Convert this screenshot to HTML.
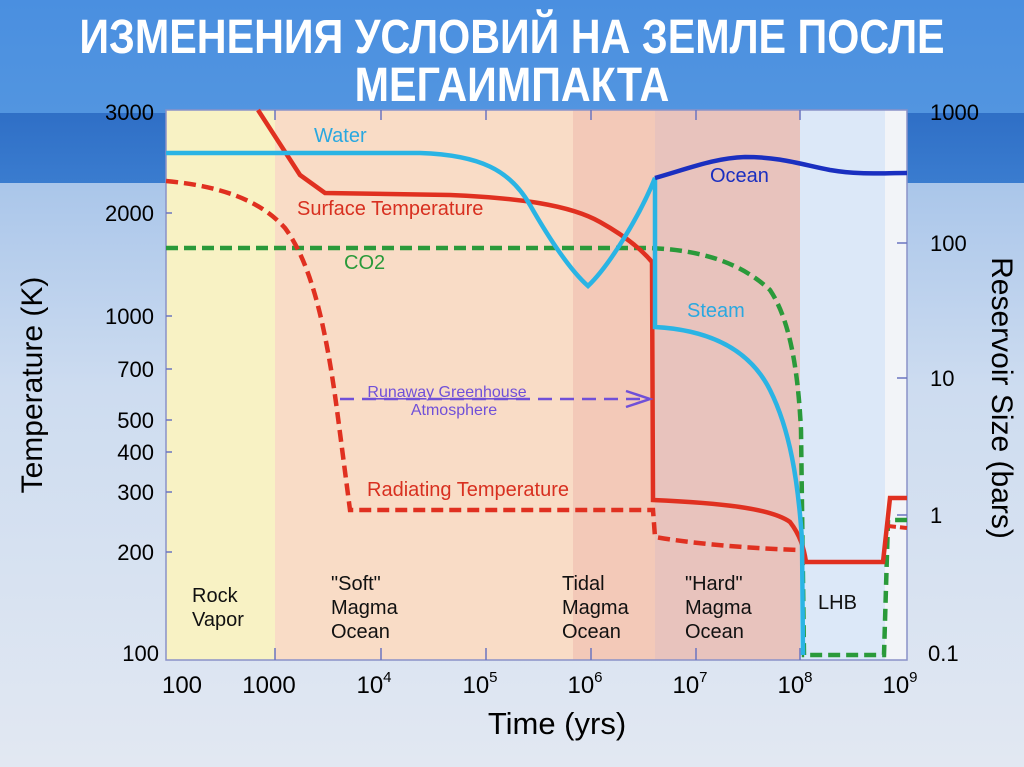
<!DOCTYPE html>
<html><head><meta charset="utf-8"><style>
html,body{margin:0;padding:0;width:1024px;height:767px;overflow:hidden}
svg{display:block}
text{font-family:"Liberation Sans",Arial,sans-serif}
</style></head><body>
<svg width="1024" height="767" viewBox="0 0 1024 767" xmlns="http://www.w3.org/2000/svg">
<defs>
<linearGradient id="top" x1="0" y1="0" x2="0" y2="1"><stop offset="0" stop-color="#4a8fe0"/><stop offset="1" stop-color="#5295e0"/></linearGradient>
<linearGradient id="band" x1="0" y1="0" x2="0" y2="1"><stop offset="0" stop-color="#2f6fc6"/><stop offset="1" stop-color="#3a7ccf"/></linearGradient>
<linearGradient id="low" x1="0" y1="0" x2="0" y2="1"><stop offset="0" stop-color="#aac6ea"/><stop offset="0.35" stop-color="#cddcf0"/><stop offset="1" stop-color="#e2e8f2"/></linearGradient>
</defs>
<rect x="0" y="0" width="1024" height="113" fill="url(#top)"/>
<rect x="0" y="113" width="1024" height="70" fill="url(#band)"/>
<rect x="0" y="183" width="1024" height="584" fill="url(#low)"/>

<g font-weight="bold" fill="#fff" font-size="48" text-anchor="middle">
<text x="512" y="53" transform="translate(512 0) scale(0.86 1) translate(-512 0)">ИЗМЕНЕНИЯ УСЛОВИЙ НА ЗЕМЛЕ ПОСЛЕ</text>
<text x="512" y="101" transform="translate(512 0) scale(0.86 1) translate(-512 0)">МЕГАИМПАКТА</text>
</g>

<!-- regions -->
<rect x="166" y="110" width="109" height="550" fill="#f8f2c4"/>
<rect x="275" y="110" width="298" height="550" fill="#f9dcc6"/>
<rect x="573" y="110" width="82" height="550" fill="#f3c9b8"/>
<rect x="655" y="110" width="145" height="550" fill="#e8c3bd"/>
<rect x="800" y="110" width="85" height="550" fill="#dce8f8"/>
<rect x="885" y="110" width="22" height="550" fill="#f2f4f8"/>
<rect x="166" y="110" width="741" height="550" fill="none" stroke="#8a92c8" stroke-width="1.5"/>
<g stroke="#6a74c0" stroke-width="1.5">
<line x1="275" y1="660" x2="275" y2="648"/><line x1="381" y1="660" x2="381" y2="648"/><line x1="486" y1="660" x2="486" y2="648"/><line x1="591" y1="660" x2="591" y2="648"/><line x1="696" y1="660" x2="696" y2="648"/><line x1="800" y1="660" x2="800" y2="648"/>
<line x1="275" y1="110" x2="275" y2="120"/><line x1="381" y1="110" x2="381" y2="120"/><line x1="486" y1="110" x2="486" y2="120"/><line x1="591" y1="110" x2="591" y2="120"/><line x1="696" y1="110" x2="696" y2="120"/><line x1="800" y1="110" x2="800" y2="120"/>
<line x1="166" y1="213" x2="172" y2="213"/><line x1="166" y1="316" x2="172" y2="316"/><line x1="166" y1="369" x2="172" y2="369"/><line x1="166" y1="420" x2="172" y2="420"/><line x1="166" y1="452" x2="172" y2="452"/><line x1="166" y1="492" x2="172" y2="492"/><line x1="166" y1="552" x2="172" y2="552"/>
<line x1="897" y1="243" x2="907" y2="243"/><line x1="897" y1="378" x2="907" y2="378"/><line x1="897" y1="515" x2="907" y2="515"/>
</g>

<g font-size="22" fill="#000" text-anchor="end">
<text x="154" y="120">3000</text><text x="154" y="221">2000</text><text x="154" y="324">1000</text><text x="154" y="377">700</text><text x="154" y="428">500</text><text x="154" y="460">400</text><text x="154" y="500">300</text><text x="154" y="560">200</text><text x="159" y="661">100</text>
</g>
<g font-size="22" fill="#000">
<text x="930" y="120">1000</text><text x="930" y="251">100</text><text x="930" y="386">10</text><text x="930" y="523">1</text><text x="928" y="661">0.1</text>
</g>
<g font-size="24" fill="#000" text-anchor="middle">
<text x="182" y="693">100</text><text x="269" y="693">1000</text><text x="374" y="693">10<tspan font-size="15" dy="-11">4</tspan></text><text x="480" y="693">10<tspan font-size="15" dy="-11">5</tspan></text><text x="585" y="693">10<tspan font-size="15" dy="-11">6</tspan></text><text x="690" y="693">10<tspan font-size="15" dy="-11">7</tspan></text><text x="795" y="693">10<tspan font-size="15" dy="-11">8</tspan></text><text x="900" y="693">10<tspan font-size="15" dy="-11">9</tspan></text>
</g>
<text x="557" y="734" font-size="31" text-anchor="middle" fill="#000">Time (yrs)</text>
<text transform="translate(42 385) rotate(-90)" font-size="30" text-anchor="middle" fill="#000">Temperature (K)</text>
<text transform="translate(992 398) rotate(90)" font-size="30" text-anchor="middle" fill="#000">Reservoir Size (bars)</text>

<g font-size="20" fill="#111">
<text x="192" y="602">Rock</text><text x="192" y="626">Vapor</text>
<text x="331" y="590">"Soft"</text><text x="331" y="614">Magma</text><text x="331" y="638">Ocean</text>
<text x="562" y="590">Tidal</text><text x="562" y="614">Magma</text><text x="562" y="638">Ocean</text>
<text x="685" y="590">"Hard"</text><text x="685" y="614">Magma</text><text x="685" y="638">Ocean</text>
<text x="818" y="609">LHB</text>
</g>

<path d="M166 248 L650 248 C700 250 740 262 770 290 C790 320 798 370 801 430 L804 655 L884 655 L888 520 L907 520" fill="none" stroke="#2a9a3a" stroke-width="4.5" stroke-dasharray="12 6"/>
<path d="M166 181 C220 186 260 200 285 228 C310 262 325 320 337 410 L350 510 L653 510 L655 537 C690 543 740 548 800 550" fill="none" stroke="#e03020" stroke-width="4.5" stroke-dasharray="12 6"/>
<path d="M888 526 L907 528" fill="none" stroke="#e03020" stroke-width="4" stroke-dasharray="8 4"/>
<path d="M258 110 L300 175 L325 193 L450 195 C520 198 570 205 600 222 C625 236 642 250 652 262 L653 500 C720 503 770 508 790 522 C800 535 804 548 806 562 L883 562 L890 498 L907 498" fill="none" stroke="#e03020" stroke-width="4.5"/>
<path d="M166 153 L420 153 C480 155 510 170 530 205 C550 240 570 270 588 286 C610 265 640 215 655 178 L655 327 C710 330 750 350 770 390 C790 430 798 480 802 540 L803 655" fill="none" stroke="#2ab4e4" stroke-width="4.5"/>
<path d="M655 178 C690 168 715 158 745 157 C780 157 800 164 830 170 C860 175 880 173 907 173" fill="none" stroke="#1a2fc0" stroke-width="4.5"/>
<line x1="340" y1="399" x2="640" y2="399" stroke="#7050d8" stroke-width="2.5" stroke-dasharray="14 8"/>
<path d="M626 391 L650 399 L626 407" fill="none" stroke="#7050d8" stroke-width="2.5"/>

<g font-size="20">
<text x="314" y="142" fill="#2aa8e0">Water</text>
<text x="297" y="215" fill="#d83020">Surface Temperature</text>
<text x="344" y="269" fill="#2a9a3a">CO2</text>
<text x="367" y="496" fill="#d83020">Radiating Temperature</text>
<text x="710" y="182" fill="#1a2fc0">Ocean</text>
<text x="687" y="317" fill="#2aa8e0">Steam</text>
</g>
<g font-size="16" fill="#7050d8" text-anchor="middle">
<text x="447" y="397" text-decoration="underline">Runaway Greenhouse</text>
<text x="454" y="415">Atmosphere</text>
</g>
</svg>
</body></html>
